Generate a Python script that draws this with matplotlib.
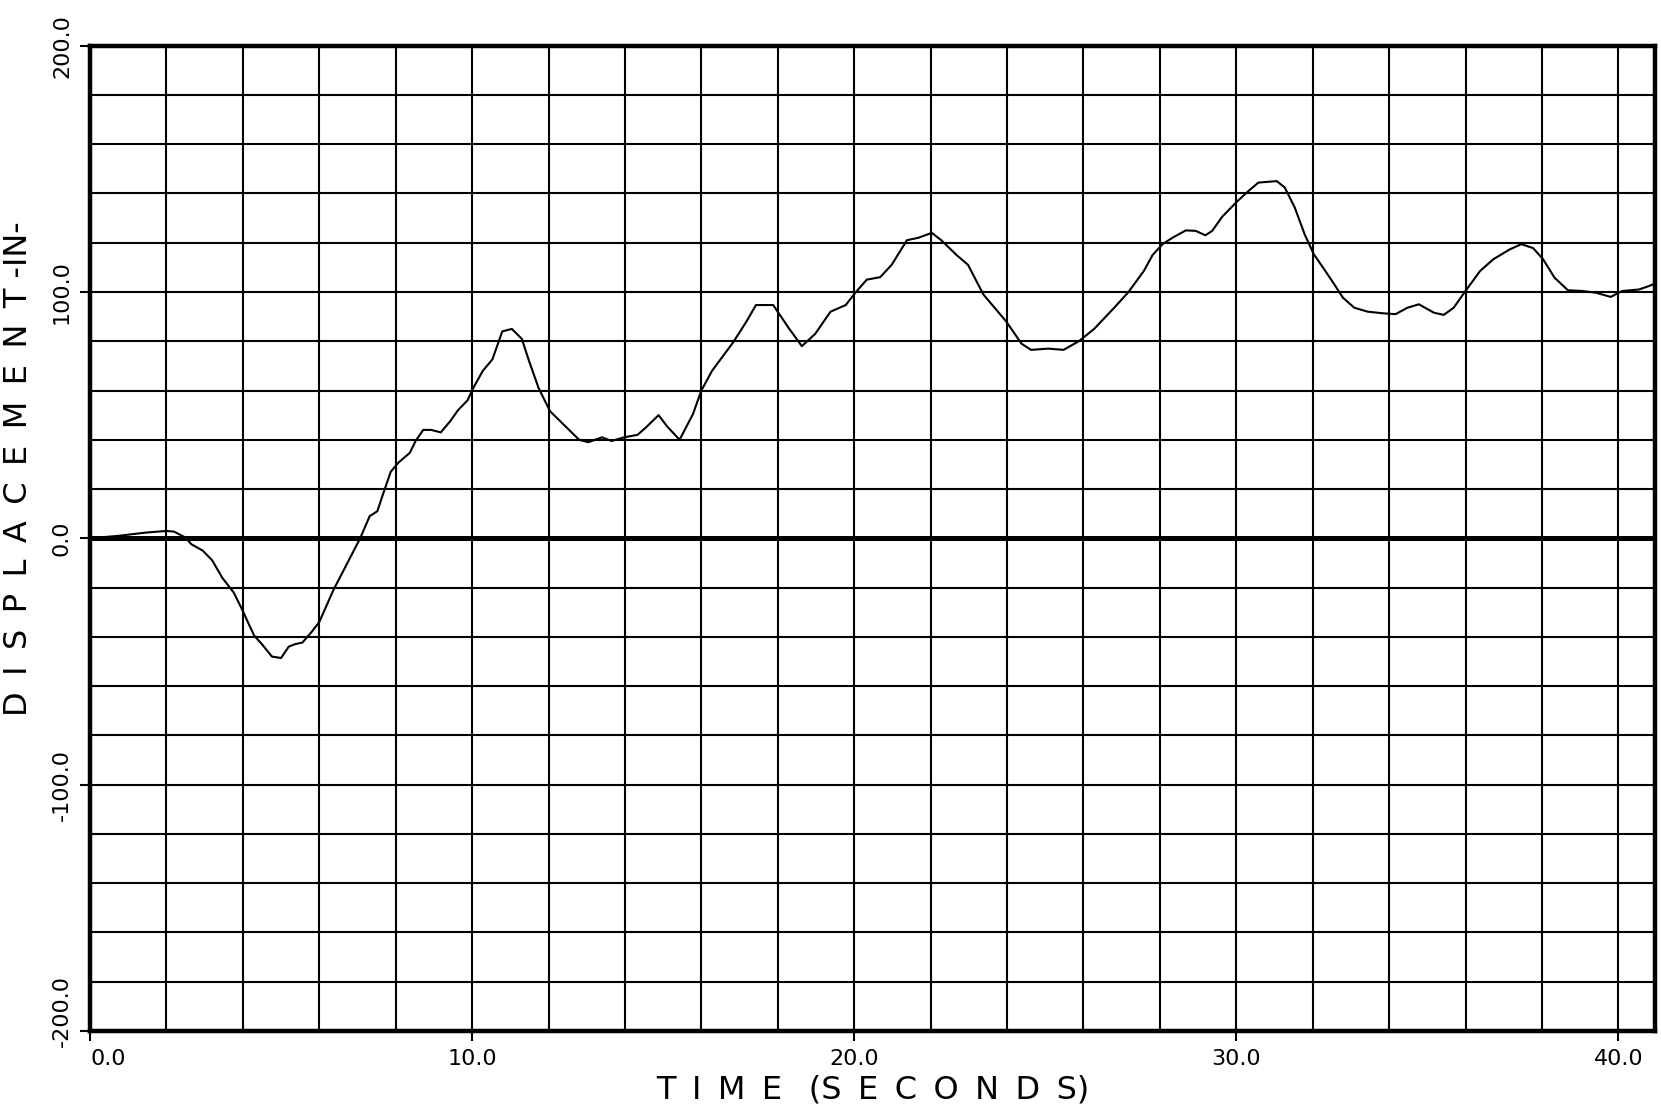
import matplotlib
matplotlib.use("Agg")
import matplotlib.pyplot as plt
from matplotlib.ticker import MultipleLocator
from matplotlib.transforms import ScaledTranslation

# Displacement record (inches) versus time (seconds)
time_s = [0.0, 0.74, 1.45, 2.0, 2.2, 2.5, 2.65, 2.95, 3.2, 3.46, 3.76, 4.0, 4.16,
          4.3, 4.5, 4.76, 5.0, 5.2, 5.36, 5.56, 5.8, 6.0, 6.37, 6.77, 7.07, 7.32,
          7.52, 7.67, 7.87, 8.07, 8.37, 8.52, 8.72, 8.93, 9.18, 9.43, 9.63, 9.88,
          10.03, 10.28, 10.53, 10.79, 11.04, 11.3, 11.49, 11.74, 12.04, 12.44,
          12.8, 13.04, 13.4, 13.65, 13.98, 14.33, 14.55, 14.88, 15.1, 15.43,
          15.78, 16.0, 16.28, 16.83, 17.18, 17.43, 17.88, 18.28, 18.63, 18.98,
          19.38, 19.78, 20.03, 20.33, 20.68, 20.98, 21.38, 21.68, 22.03, 22.28,
          22.68, 22.98, 23.38, 23.98, 24.38, 24.63, 25.08, 25.48, 25.88, 26.28,
          26.83, 27.18, 27.58, 27.81, 28.07, 28.33, 28.68, 28.94, 29.19, 29.37,
          29.63, 30.02, 30.32, 30.58, 31.06, 31.27, 31.53, 31.79, 32.03, 32.31,
          32.57, 32.79, 33.09, 33.44, 33.87, 34.17, 34.48, 34.78, 35.17, 35.43,
          35.69, 36.0, 36.38, 36.73, 37.16, 37.46, 37.77, 38.03, 38.33, 38.68,
          39.06, 39.41, 39.8, 40.1, 40.54, 40.8, 40.96]
displacement_in = [0.0, 1.0, 2.3, 3.0, 2.7, 0.3, -2.4, -5.0, -9.0, -16.0, -22.0,
                   -29.5, -35.0, -39.6, -43.0, -48.0, -48.6, -44.0, -43.0, -42.3,
                   -38.0, -34.0, -21.0, -9.0, 0.0, 9.0, 11.0, 18.0, 27.0, 30.7,
                   34.7, 39.5, 44.0, 44.0, 43.0, 47.6, 52.0, 56.0, 61.0, 68.0,
                   72.6, 84.0, 85.0, 81.0, 72.0, 61.0, 51.6, 45.5, 40.0, 39.0,
                   41.0, 39.5, 41.0, 42.0, 45.0, 50.0, 45.5, 40.0, 50.4, 60.0,
                   68.0, 79.5, 88.0, 94.7, 94.7, 85.5, 78.0, 83.0, 92.0, 94.7,
                   99.7, 105.0, 106.0, 111.0, 121.0, 122.0, 124.0, 121.0, 115.0,
                   111.0, 99.0, 88.0, 79.0, 76.5, 77.0, 76.5, 80.0, 85.0, 94.0,
                   100.0, 108.5, 115.0, 119.4, 122.0, 125.0, 124.8, 123.0, 124.8,
                   130.5, 136.7, 141.0, 144.4, 145.0, 142.4, 134.3, 123.4, 115.3,
                   109.0, 103.0, 97.7, 93.6, 92.0, 91.3, 91.0, 93.6, 95.0, 91.6,
                   90.7, 93.6, 100.4, 108.5, 113.3, 117.3, 119.4, 117.8, 113.3,
                   105.8, 100.7, 100.4, 99.7, 98.0, 100.4, 101.0, 102.4, 103.4]

x_major = [0.0, 10.0, 20.0, 30.0, 40.0]
x_labels = ["0.0", "10.0", "20.0", "30.0", "40.0"]
y_major = [-200.0, -100.0, 0.0, 100.0, 200.0]
y_labels = ["-200.0", "-100.0", "0.0", "100.0", "200.0"]

plt.rcParams["font.family"] = ["DejaVu Sans"]

fig = plt.figure(figsize=(16.61, 11.13), dpi=100)
ax = fig.add_axes([0.0542, 0.0737, 0.9422, 0.8853])

ax.set_xlim(0, 40.96)
ax.set_ylim(-200, 200)

ax.xaxis.set_minor_locator(MultipleLocator(2))
ax.yaxis.set_minor_locator(MultipleLocator(20))
ax.set_xticks(x_major)
ax.set_xticklabels(x_labels, fontsize=16)
ax.set_yticks(y_major)
ax.set_yticklabels(y_labels, fontsize=16, rotation=90, va="center")
ax.tick_params(which="major", direction="out", length=7, width=1.5, pad=6)
ax.tick_params(which="minor", length=0)

# first time label starts at the origin; lowest displacement label sits a bit higher
ax.get_xticklabels()[0].set_horizontalalignment("left")
low = ax.get_yticklabels()[0]
low.set_transform(low.get_transform() + ScaledTranslation(0, 0.2, fig.dpi_scale_trans))

ax.grid(which="both", color="black", linewidth=1.5)
ax.set_axisbelow(True)
for side in ax.spines.values():
    side.set_linewidth(3.2)

ax.axhline(0, color="black", linewidth=3.6, zorder=2)
ax.plot(time_s, displacement_in, color="black", linewidth=1.5, zorder=3)

sp = "\u2009 "
xlab = sp.join("TIME") + " \u2009 (" + sp.join("SECONDS") + ")"
ylab = sp.join("DISPLACEMENT") + " -IN-"
ax.set_xlabel(xlab, fontsize=23, labelpad=4)
ax.set_ylabel(ylab, fontsize=23)
ax.yaxis.set_label_coords(-0.036, 0.571)

fig.savefig("out.png", dpi=100, facecolor="white")
